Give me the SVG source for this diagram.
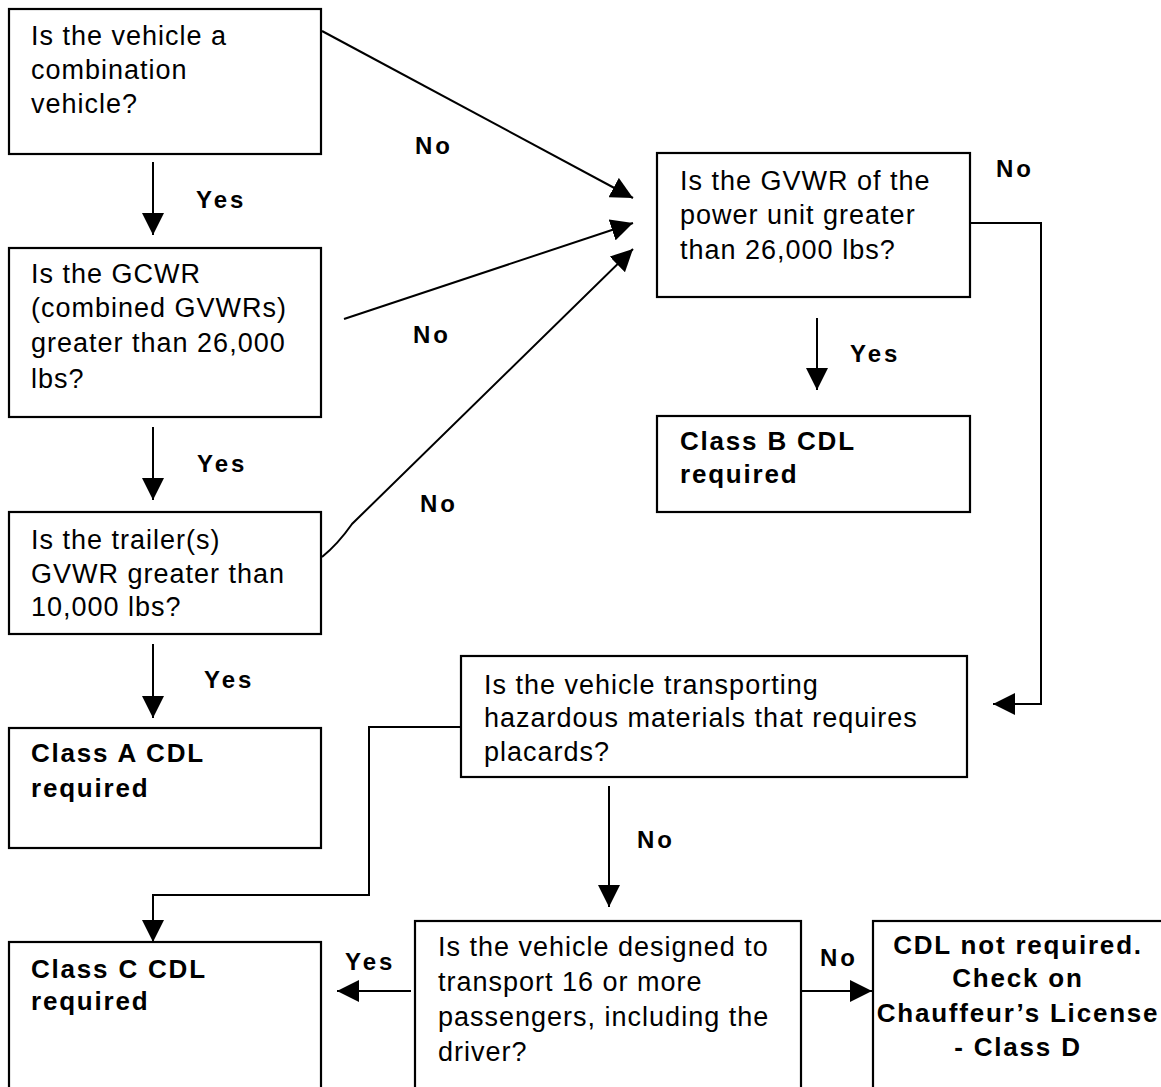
<svg xmlns="http://www.w3.org/2000/svg" width="1161" height="1087" viewBox="0 0 1161 1087">
<defs>
<marker id="ah" markerUnits="userSpaceOnUse" markerWidth="22" markerHeight="22" refX="20" refY="10" orient="auto" viewBox="0 0 20 20">
<path d="M0,0 L20,10 L0,20 z" fill="#000"/>
</marker>
</defs>
<style>
.box{fill:#fff;stroke:#000;stroke-width:2.2}
.t{font-family:"Liberation Sans",Arial,sans-serif;font-size:27px;letter-spacing:1px;fill:#000}
.b{font-family:"Liberation Sans",Arial,sans-serif;font-size:26px;font-weight:bold;letter-spacing:1.8px;fill:#000}
.l{font-family:"Liberation Sans",Arial,sans-serif;font-size:24px;font-weight:bold;letter-spacing:3px;fill:#000}
.c{fill:none;stroke:#000;stroke-width:2}
.a{fill:none;stroke:#000;stroke-width:2;marker-end:url(#ah)}
</style>
<rect width="1161" height="1087" fill="#fff"/>

<g id="connectors">
<line class="a" x1="153" y1="162" x2="153" y2="235"/>
<line class="a" x1="153" y1="427" x2="153" y2="500"/>
<line class="a" x1="153" y1="644" x2="153" y2="718"/>
<line class="a" x1="322" y1="31" x2="633" y2="198"/>
<line class="a" x1="344" y1="319" x2="633" y2="223"/>
<path class="a" d="M322,557 Q338,544 352,524 L633,249"/>
<line class="a" x1="817" y1="318" x2="817" y2="390"/>
<path class="a" d="M970,223 L1041,223 L1041,704 L993,704"/>
<path class="a" d="M461,727 L369,727 L369,895 L153,895 L153,942"/>
<line class="a" x1="609" y1="786" x2="609" y2="907"/>
<line class="a" x1="411" y1="991" x2="337" y2="991"/>
<line class="a" x1="801" y1="991" x2="872" y2="991"/>
<text class="l" x="415" y="154">No</text>
<text class="l" x="196" y="208">Yes</text>
<text class="l" x="413" y="343">No</text>
<text class="l" x="197" y="472">Yes</text>
<text class="l" x="420" y="512">No</text>
<text class="l" x="204" y="688">Yes</text>
<text class="l" x="850" y="362">Yes</text>
<text class="l" x="996" y="177">No</text>
<text class="l" x="637" y="848">No</text>
<text class="l" x="345" y="970">Yes</text>
<text class="l" x="820" y="966">No</text>
</g>

<g id="q-combination">
<rect class="box" x="9" y="9" width="312" height="145"/>
<text class="t" x="31" y="45">Is the vehicle a</text>
<text class="t" x="31" y="79">combination</text>
<text class="t" x="31" y="113">vehicle?</text>
</g>

<g id="q-gcwr">
<rect class="box" x="9" y="248" width="312" height="169"/>
<text class="t" x="31" y="283">Is the GCWR</text>
<text class="t" x="31" y="317">(combined GVWRs)</text>
<text class="t" x="31" y="352">greater than 26,000</text>
<text class="t" x="31" y="388">lbs?</text>
</g>

<g id="q-trailer">
<rect class="box" x="9" y="512" width="312" height="122"/>
<text class="t" x="31" y="549">Is the trailer(s)</text>
<text class="t" x="31" y="583">GVWR greater than</text>
<text class="t" x="31" y="616">10,000 lbs?</text>
</g>

<g id="class-a">
<rect class="box" x="9" y="728" width="312" height="120"/>
<text class="b" x="31" y="762">Class A CDL</text>
<text class="b" x="31" y="797">required</text>
</g>

<g id="class-c">
<rect class="box" x="9" y="942" width="312" height="160"/>
<text class="b" x="31" y="978">Class C CDL</text>
<text class="b" x="31" y="1010">required</text>
</g>

<g id="q-power-unit">
<rect class="box" x="657" y="153" width="313" height="144"/>
<text class="t" x="680" y="190">Is the GVWR of the</text>
<text class="t" x="680" y="224">power unit greater</text>
<text class="t" x="680" y="259">than 26,000 lbs?</text>
</g>

<g id="class-b">
<rect class="box" x="657" y="416" width="313" height="96"/>
<text class="b" x="680" y="450">Class B CDL</text>
<text class="b" x="680" y="483">required</text>
</g>

<g id="q-hazmat">
<rect class="box" x="461" y="656" width="506" height="121"/>
<text class="t" x="484" y="694">Is the vehicle transporting</text>
<text class="t" x="484" y="727">hazardous materials that requires</text>
<text class="t" x="484" y="761">placards?</text>
</g>

<g id="q-passengers">
<rect class="box" x="415" y="921" width="386" height="180"/>
<text class="t" x="438" y="956">Is the vehicle designed to</text>
<text class="t" x="438" y="991">transport 16 or more</text>
<text class="t" x="438" y="1026">passengers, including the</text>
<text class="t" x="438" y="1061">driver?</text>
</g>

<g id="cdl-not-required">
<rect class="box" x="873" y="921" width="300" height="180"/>
<text class="b" x="1018" y="954" text-anchor="middle">CDL not required.</text>
<text class="b" x="1018" y="987" text-anchor="middle">Check on</text>
<text class="b" x="1018" y="1022" text-anchor="middle">Chauffeur’s License</text>
<text class="b" x="1018" y="1056" text-anchor="middle">- Class D</text>
</g>
</svg>
